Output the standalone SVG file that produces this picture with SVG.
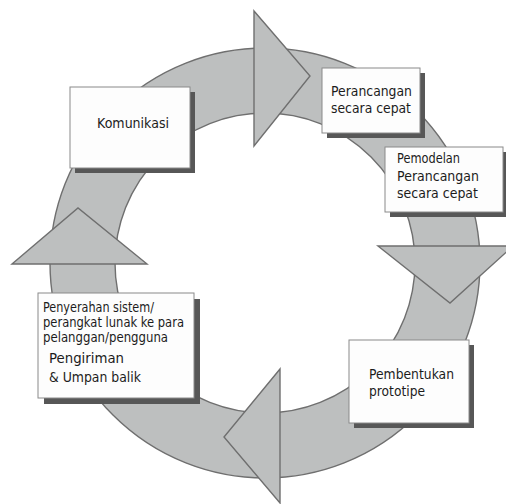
<svg xmlns="http://www.w3.org/2000/svg" width="506" height="504" viewBox="0 0 506 504">
<style>
.ring{fill:#bdbfbf;stroke:#6f6f6f;stroke-width:1.4;stroke-linejoin:miter}
.box{fill:#fdfdfd;stroke:#8a8a8a;stroke-width:1}
.shadow{fill:#575757}
.t{font-family:"DejaVu Sans",Verdana,sans-serif;font-size:14.5px;fill:#1c1c1c}
.tn{font-family:"DejaVu Sans Condensed","DejaVu Sans",sans-serif;font-size:14px;fill:#1c1c1c}
</style>
<rect width="506" height="504" fill="#ffffff"/>
<g id="connectors">
  <path class="ring" fill-rule="evenodd" d="M50,263 A215,215 0 1,1 480,263 A215,215 0 1,1 50,263 Z M115,263 A150,150 0 1,0 415,263 A150,150 0 1,0 115,263 Z"/>
  <polygon class="ring" points="254,11 310,76 254,146"/>
  <polygon class="ring" points="378,246 513,246 450,303"/>
  <polygon class="ring" points="280,369 224,437 280,503"/>
  <polygon class="ring" points="12,264 78,208 147,264"/>
</g>
<g id="komunikasi">
  <rect class="shadow" x="75" y="92" width="120" height="81"/>
  <rect class="box" x="70" y="87" width="120" height="81"/>
  <text class="t" x="97" y="128" textLength="72" lengthAdjust="spacingAndGlyphs">Komunikasi</text>
</g>
<g id="perancangan">
  <rect class="shadow" x="327" y="73" width="98" height="65"/>
  <rect class="box" x="322" y="68" width="98" height="65"/>
  <text class="t" x="331" y="96" textLength="81" lengthAdjust="spacingAndGlyphs">Perancangan</text>
  <text class="t" x="331" y="113" textLength="80" lengthAdjust="spacingAndGlyphs">secara cepat</text>
</g>
<g id="pemodelan">
  <rect class="shadow" x="390" y="152" width="118" height="65"/>
  <rect class="box" x="385" y="147" width="118" height="65"/>
  <text class="t" x="397" y="163" textLength="63" lengthAdjust="spacingAndGlyphs">Pemodelan</text>
  <text class="t" x="397" y="181" textLength="82" lengthAdjust="spacingAndGlyphs">Perancangan</text>
  <text class="t" x="397" y="198" textLength="81" lengthAdjust="spacingAndGlyphs">secara cepat</text>
</g>
<g id="pembentukan">
  <rect class="shadow" x="354" y="345" width="120" height="83"/>
  <rect class="box" x="349" y="340" width="120" height="83"/>
  <text class="t" x="369" y="379" textLength="85" lengthAdjust="spacingAndGlyphs">Pembentukan</text>
  <text class="t" x="369" y="396" textLength="56" lengthAdjust="spacingAndGlyphs">prototipe</text>
</g>
<g id="penyerahan">
  <rect class="shadow" x="44" y="299" width="156" height="105"/>
  <rect class="box" x="38" y="293" width="156" height="105"/>
  <text class="tn" x="43" y="312" textLength="111" lengthAdjust="spacingAndGlyphs">Penyerahan sistem/</text>
  <text class="tn" x="43" y="327" textLength="141" lengthAdjust="spacingAndGlyphs">perangkat lunak ke para</text>
  <text class="tn" x="43" y="342" textLength="125" lengthAdjust="spacingAndGlyphs">pelanggan/pengguna</text>
  <text class="t" x="49" y="363" textLength="75" lengthAdjust="spacingAndGlyphs">Pengiriman</text>
  <text class="t" x="49" y="382" textLength="92" lengthAdjust="spacingAndGlyphs">&amp; Umpan balik</text>
</g>
</svg>
